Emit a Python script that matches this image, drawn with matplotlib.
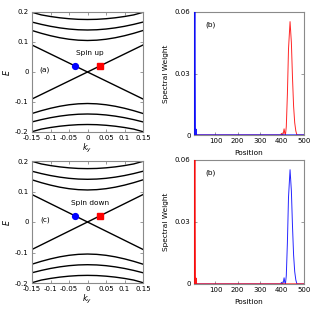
import matplotlib
matplotlib.use("Agg")
import matplotlib.pyplot as plt

# ---------------- data ----------------
ky = [-0.15, -0.125, -0.1, -0.075, -0.05, -0.025, 0.0, 0.025, 0.05, 0.075, 0.1, 0.125, 0.15]
band_a = [0.1383, 0.1290, 0.1209, 0.1142, 0.1092, 0.1061, 0.105, 0.1061, 0.1092, 0.1142, 0.1209, 0.1290, 0.1383]
band_b = [0.1664, 0.1588, 0.1523, 0.1471, 0.1432, 0.1408, 0.140, 0.1408, 0.1432, 0.1471, 0.1523, 0.1588, 0.1664]
band_c = [0.1990, 0.1904, 0.1850, 0.1807, 0.1776, 0.1756, 0.175, 0.1756, 0.1776, 0.1807, 0.1850, 0.1904, 0.1990]
edge_k = [-0.15, 0.15]
edge_down = [0.09, -0.09]
edge_up = [-0.09, 0.09]
marker_circle = (-0.033, 0.02)
marker_square = (0.033, 0.02)
spin_labels = ["Spin up", "Spin down"]
panel_labels_left = ["(a)", "(c)"]
panel_labels_right = ["(b)", "(b)"]

edge_pos = [3, 6, 7, 8, 9, 10, 12, 14, 16, 500]
edge_w = [0.0, 0.09, 0.09, 0.03, 0.0, 0.0, 0.0028, 0.0, 0.0, 0.0]
bulk_pos = [3, 395, 398, 401, 404, 407, 410, 413, 416, 420, 425, 430, 437, 443, 448, 453, 458, 463, 468, 500]
bulk_w = [0, 0, 0.0008, 0, 0, 0.001, 0.003, 0.001, 0, 0.004, 0.02, 0.042, 0.0553, 0.045, 0.028, 0.014, 0.006, 0.002, 0, 0]

k_ticks = [-0.15, -0.1, -0.05, 0, 0.05, 0.1, 0.15]
k_ticklabels = ["-0.15", "-0.1", "-0.05", "0", "0.05", "0.1", "0.15"]
e_ticks = [-0.2, -0.1, 0, 0.1, 0.2]
e_ticklabels = ["-0.2", "-0.1", "0", "0.1", "0.2"]
pos_ticks = [100, 200, 300, 400, 500]
pos_ticklabels = ["100", "200", "300", "400", "500"]
w_ticks = [0, 0.03, 0.06]
w_ticklabels = ["0", "0.03", "0.06"]

# ---------------- figure ----------------
plt.rcParams['font.family'] = ['DejaVu Sans']
FS = 5.0
spine_c = '#8a8a8a'
fig = plt.figure(figsize=(3.12, 3.12), dpi=100)

left_rects = [[32/312, 1-132/312, 111/312, 120/312],
              [32/312, 1-283/312, 111/312, 122/312]]
right_rects = [[194/312, 1-135/312, 110/312, 123/312],
               [194/312, 1-284/312, 110/312, 124/312]]


def style(ax):
    for s in ax.spines.values():
        s.set_color(spine_c)
        s.set_linewidth(0.8)
    ax.tick_params(direction='in', length=2.5, width=0.6, color=spine_c,
                   labelsize=FS, pad=2.5, top=True, right=True)


for i in range(2):
    ax = fig.add_axes(left_rects[i])
    for band in (band_a, band_b, band_c):
        ax.plot(ky, band, color='black', lw=1.0)
        ax.plot(ky, [-v for v in band], color='black', lw=1.0)
    ax.plot(edge_k, edge_down, color='black', lw=1.0)
    ax.plot(edge_k, edge_up, color='black', lw=1.0)
    ax.plot([marker_circle[0]], [marker_circle[1]], 'o', color='#0000ff', ms=4.2, zorder=5)
    ax.plot([marker_square[0]], [marker_square[1]], 's', color='#ff0000', ms=4.2, zorder=5)
    ax.text(0.006, 0.062, spin_labels[i], fontsize=FS + 0.3, ha='center', va='center')
    ax.text(-0.115, 0.007, panel_labels_left[i], fontsize=FS + 0.3, ha='center', va='center')
    ax.set_xlim(-0.15, 0.15)
    ax.set_ylim(-0.2, 0.2)
    ax.set_xticks(k_ticks)
    ax.set_xticklabels(k_ticklabels)
    ax.set_yticks(e_ticks)
    ax.set_yticklabels(e_ticklabels)
    ax.set_xlabel(r'$k_y$', fontsize=FS + 0.8, labelpad=0.5)
    ax.set_ylabel(r'$E$', fontsize=FS + 0.8, labelpad=2)
    style(ax)

colors_edge = ['#0000ff', '#ff0000']
colors_bulk = ['#ff0000', '#0000ff']
for i in range(2):
    ax = fig.add_axes(right_rects[i])
    ax.plot(bulk_pos, bulk_w, color=colors_bulk[i], lw=0.7, alpha=0.85)
    ax.plot(edge_pos, edge_w, color=colors_edge[i], lw=0.9, alpha=0.9, zorder=3)
    ax.text(0.1, 0.9, panel_labels_right[i], fontsize=FS + 0.3, transform=ax.transAxes,
            ha='left', va='center')
    ax.set_xlim(3, 500)
    ax.set_ylim(0, 0.06)
    ax.set_xticks(pos_ticks)
    ax.set_xticklabels(pos_ticklabels)
    ax.set_yticks(w_ticks)
    ax.set_yticklabels(w_ticklabels)
    ax.set_xlabel('Position', fontsize=FS + 0.3, labelpad=4)
    ax.set_ylabel('Spectral Weight', fontsize=FS + 0.3, labelpad=4)
    style(ax)
    ax.tick_params(top=False)

fig.savefig('out.png', dpi=100)
